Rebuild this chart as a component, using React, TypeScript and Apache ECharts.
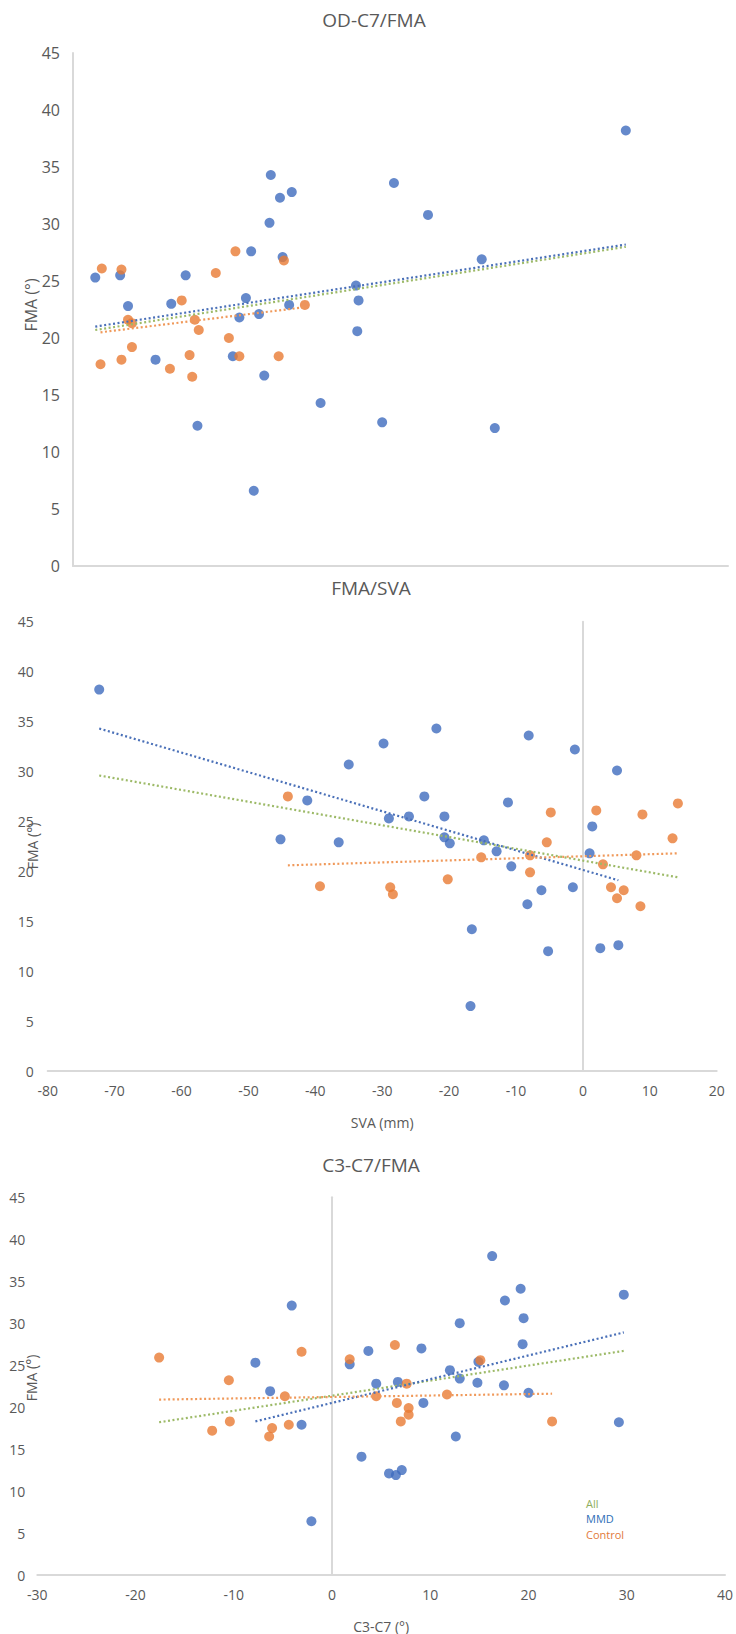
import React, { useEffect, useRef } from "react";
import * as echarts from "echarts";

// ---------- Chart 1: OD-C7 / FMA (x axis shown without labels) ----------
const odc7MmdX = [1.7, 3.6, 8.6, 15.1, 15.8, 16.7, 15.0, 13.6, 16.0, 21.6, 42.2, 24.5, 27.1, 31.2, 4.2, 7.5, 13.2, 12.7, 14.2, 16.5, 21.8, 21.7, 6.3, 12.2, 14.6, 18.9, 9.5, 13.8, 23.6, 32.2];
const odc7MmdFma = [25.3, 25.5, 25.5, 34.3, 32.3, 32.8, 30.1, 27.6, 27.1, 24.6, 38.2, 33.6, 30.8, 26.9, 22.8, 23.0, 23.5, 21.8, 22.1, 22.9, 23.3, 20.6, 18.1, 18.4, 16.7, 14.3, 12.3, 6.6, 12.6, 12.1];
const odc7CtrlX = [2.2, 3.7, 10.9, 12.4, 16.1, 8.3, 4.2, 4.5, 9.3, 9.6, 11.9, 17.7, 4.5, 2.1, 3.7, 7.4, 8.9, 9.1, 12.7, 15.7];
const odc7CtrlFma = [26.1, 26.0, 25.7, 27.6, 26.8, 23.3, 21.6, 21.3, 21.6, 20.7, 20.0, 22.9, 19.2, 17.7, 18.1, 17.3, 18.5, 16.6, 18.4, 18.4];
const odc7TrendAll = [[1.7, 20.7], [42.2, 28.0]];
const odc7TrendMmd = [[1.7, 21.0], [42.2, 28.2]];
const odc7TrendCtrl = [[2.1, 20.5], [17.7, 22.7]];

// ---------- Chart 2: FMA / SVA ----------
const svaMmdX = [-72.3, -35.0, -41.2, -45.2, -36.5, -29.8, -21.9, -8.1, -1.2, 5.1, -23.7, -11.2, -29.0, -26.0, -20.7, -20.7, -19.9, -14.8, -12.9, 1.4, 1.0, -10.7, -1.5, -6.2, -8.3, -16.6, -5.2, 2.6, 5.3, -16.8];
const svaMmdFma = [38.2, 30.7, 27.1, 23.2, 22.9, 32.8, 34.3, 33.6, 32.2, 30.1, 27.5, 26.9, 25.3, 25.5, 25.5, 23.4, 22.8, 23.1, 22.0, 24.5, 21.8, 20.5, 18.4, 18.1, 16.7, 14.2, 12.0, 12.3, 12.6, 6.5];
const svaCtrlX = [-44.1, -4.8, -5.4, 2.0, 8.9, 14.2, 13.4, -15.2, -7.9, 8.0, -7.9, 3.0, -39.3, -28.8, -28.4, -20.2, 4.2, 6.1, 5.1, 8.6];
const svaCtrlFma = [27.5, 25.9, 22.9, 26.1, 25.7, 26.8, 23.3, 21.4, 21.6, 21.6, 19.9, 20.7, 18.5, 18.4, 17.7, 19.2, 18.4, 18.1, 17.3, 16.5];
const svaTrendAll = [[-72.3, 29.6], [14.2, 19.4]];
const svaTrendMmd = [[-72.3, 34.3], [5.3, 19.1]];
const svaTrendCtrl = [[-44.1, 20.6], [14.2, 21.8]];

// ---------- Chart 3: C3-C7 / FMA ----------
const c3c7MmdX = [-7.8, -6.3, -4.1, 1.8, 3.7, 16.3, 19.2, 17.6, 29.7, 19.5, 13.0, 19.4, 9.1, 14.9, 12.0, 13.0, 14.8, 17.5, 4.5, 6.7, 20.0, 9.3, -3.1, 3.0, -2.1, 29.2, 12.6, 5.8, 6.5, 7.1];
const c3c7MmdFma = [25.3, 21.9, 32.1, 25.1, 26.7, 38.0, 34.1, 32.7, 33.4, 30.6, 30.0, 27.5, 27.0, 25.4, 24.4, 23.4, 22.9, 22.6, 22.8, 23.0, 21.7, 20.5, 17.9, 14.1, 6.4, 18.2, 16.5, 12.1, 11.9, 12.5];
const c3c7CtrlX = [-17.6, -10.5, -4.8, -3.1, 1.8, 6.4, 15.1, 7.6, 4.5, 11.7, -12.2, -10.4, -6.1, -6.4, -4.4, 6.6, 7.8, 7.8, 7.0, 22.4];
const c3c7CtrlFma = [25.9, 23.2, 21.3, 26.6, 25.7, 27.4, 25.6, 22.8, 21.3, 21.5, 17.2, 18.3, 17.5, 16.5, 17.9, 20.5, 19.9, 19.1, 18.3, 18.3];
const c3c7TrendAll = [[-17.6, 18.2], [29.7, 26.7]];
const c3c7TrendMmd = [[-7.8, 18.3], [29.7, 28.9]];
const c3c7TrendCtrl = [[-17.6, 20.9], [22.4, 21.6]];

// Axis ranges / ticks
const fmaRange = [0, 45, 5];
const svaRange = [-80, 20, 10];
const c3c7Range = [-30, 40, 10];
const odc7Range = [0, 50];

const titles = ["OD-C7/FMA", "FMA/SVA", "C3-C7/FMA"];
const legendLabels = ["All", "MMD", "Control"];

const FONT = '"Open Sans", "Liberation Sans", sans-serif';
const GREY = "#595959";
const AXIS = "#d9d9d9";
const BLUE = "#3e6cbe";
const ORANGE = "#E97B33";
const BLUE_LINE = "#4a70b8";
const GREEN_LINE = "#9dba68";
const ORANGE_LINE = "#f0995a";

const pairs = (xs: number[], ys: number[]) => xs.map((x, i) => [x, ys[i]]);

function buildOption() {
  const gridsPx = [
    { left: 73, top: 53, width: 655, height: 513 },
    { left: 47.7, top: 621.7, width: 669, height: 449.3 },
    { left: 37.3, top: 1197.3, width: 688.7, height: 378.7 },
  ];
  const axisLine = (onZero: boolean) => ({
    show: true,
    onZero,
    lineStyle: { color: AXIS, width: 2 },
  });

  const yFont = [16, 14, 14];
  const yMargin = [13, 14, 12];

  const xAxis: any[] = [
    {
      gridIndex: 0,
      type: "value",
      min: odc7Range[0],
      max: odc7Range[1],
      axisLine: axisLine(false),
      axisTick: { show: false },
      axisLabel: { show: false },
      splitLine: { show: false },
    },
    {
      gridIndex: 1,
      type: "value",
      min: svaRange[0],
      max: svaRange[1],
      interval: svaRange[2],
      axisLine: axisLine(false),
      axisTick: { show: false },
      axisLabel: { color: GREY, fontSize: 14, margin: 12, fontFamily: FONT },
      splitLine: { show: false },
      name: "SVA (mm)",
      nameLocation: "middle",
      nameGap: 44,
      nameTextStyle: { color: GREY, fontSize: 14, fontFamily: FONT },
    },
    {
      gridIndex: 2,
      type: "value",
      min: c3c7Range[0],
      max: c3c7Range[1],
      interval: c3c7Range[2],
      axisLine: axisLine(false),
      axisTick: { show: false },
      axisLabel: { color: GREY, fontSize: 14, margin: 12, fontFamily: FONT },
      splitLine: { show: false },
      name: "C3-C7 (°)",
      nameLocation: "middle",
      nameGap: 44,
      nameTextStyle: { color: GREY, fontSize: 14, fontFamily: FONT },
    },
  ];

  const yAxis: any[] = [0, 1, 2].map((i) => ({
    gridIndex: i,
    type: "value",
    min: fmaRange[0],
    max: fmaRange[1],
    interval: fmaRange[2],
    axisLine: axisLine(i !== 0),
    axisTick: { show: false },
    axisLabel: { color: GREY, fontSize: yFont[i], margin: yMargin[i], fontFamily: FONT },
    splitLine: { show: false },
  }));

  const scatter = (idx: number, name: string, data: number[][], color: string) => ({
    type: "scatter",
    name,
    xAxisIndex: idx,
    yAxisIndex: idx,
    data,
    symbol: "circle",
    symbolSize: 10,
    itemStyle: { color },
    z: 2,
  });
  const trend = (idx: number, name: string, data: number[][], color: string) => ({
    type: "line",
    name,
    xAxisIndex: idx,
    yAxisIndex: idx,
    data,
    symbol: "none",
    lineStyle: { color, width: 2.2, type: [2, 2.5] },
    z: 3,
    silent: true,
  });

  const series = [
    scatter(0, "MMD", pairs(odc7MmdX, odc7MmdFma), BLUE),
    scatter(0, "Control", pairs(odc7CtrlX, odc7CtrlFma), ORANGE),
    trend(0, "All", odc7TrendAll, GREEN_LINE),
    trend(0, "MMD trend", odc7TrendMmd, BLUE_LINE),
    trend(0, "Control trend", odc7TrendCtrl, ORANGE_LINE),

    scatter(1, "MMD", pairs(svaMmdX, svaMmdFma), BLUE),
    scatter(1, "Control", pairs(svaCtrlX, svaCtrlFma), ORANGE),
    trend(1, "All", svaTrendAll, GREEN_LINE),
    trend(1, "MMD trend", svaTrendMmd, BLUE_LINE),
    trend(1, "Control trend", svaTrendCtrl, ORANGE_LINE),

    scatter(2, "MMD", pairs(c3c7MmdX, c3c7MmdFma), BLUE),
    scatter(2, "Control", pairs(c3c7CtrlX, c3c7CtrlFma), ORANGE),
    trend(2, "All", c3c7TrendAll, GREEN_LINE),
    trend(2, "MMD trend", c3c7TrendMmd, BLUE_LINE),
    trend(2, "Control trend", c3c7TrendCtrl, ORANGE_LINE),
  ];

  const titlePos = [
    [374, 20],
    [371, 588],
    [371, 1165],
  ];
  const yNamePos = [
    [31, 305, 16],
    [32, 846, 14],
    [31, 1378, 14],
  ];
  const legendColors = ["#8fae5c", "#2e6fb7", "#e27a3a"];
  const legendPos = [
    [586, 1503],
    [586, 1518.5],
    [586, 1534],
  ];

  const graphic: any[] = [
    ...titles.map((t, i) => ({
      type: "text",
      x: titlePos[i][0],
      y: titlePos[i][1],
      style: {
        text: t,
        fill: GREY,
        fontSize: 19,
        fontFamily: FONT,
        align: "center",
        verticalAlign: "middle",
      },
    })),
    ...yNamePos.map((p) => ({
      type: "text",
      x: p[0],
      y: p[1],
      rotation: Math.PI / 2,
      style: {
        text: "FMA (°)",
        fill: GREY,
        fontSize: p[2],
        fontFamily: FONT,
        align: "center",
        verticalAlign: "middle",
      },
    })),
    ...legendLabels.map((t, i) => ({
      type: "text",
      x: legendPos[i][0],
      y: legendPos[i][1],
      style: {
        text: t,
        fill: legendColors[i],
        fontSize: 11,
        fontFamily: FONT,
        align: "left",
        verticalAlign: "middle",
      },
    })),
  ];

  return {
    animation: false,
    backgroundColor: "#ffffff",
    textStyle: { fontFamily: FONT },
    grid: gridsPx.map((g) => ({ ...g, containLabel: false })),
    xAxis,
    yAxis,
    series,
    graphic,
  };
}

export default function App() {
  const ref = useRef<HTMLDivElement>(null);
  useEffect(() => {
    if (!ref.current) return;
    const chart = echarts.init(ref.current, undefined, { renderer: "svg" });
    chart.setOption(buildOption() as any);
    return () => chart.dispose();
  }, []);
  return (
    <div
      ref={ref}
      style={{ position: "absolute", left: 0, top: 0, width: 736, height: 1634, background: "#fff" }}
    />
  );
}
